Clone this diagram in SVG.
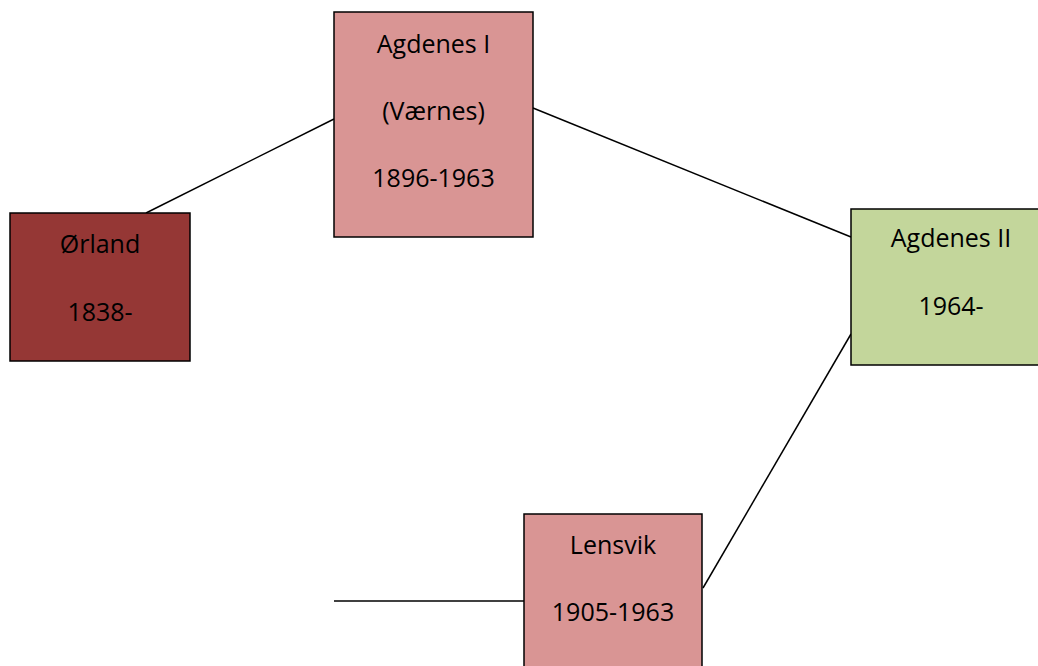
<svg xmlns="http://www.w3.org/2000/svg" width="1038" height="666" viewBox="0 0 1038 666">
<style>
.box{stroke:#000;stroke-width:1.5}
.t{font-family:"Open Sans","Liberation Sans",sans-serif;font-size:25px;fill:#000;text-anchor:middle}
.c{stroke:#000;stroke-width:1.5;fill:none}
</style>
<rect width="1038" height="666" fill="#fff"/>
<g id="connectors">
<line class="c" x1="146" y1="213" x2="334" y2="119"/>
<line class="c" x1="533" y1="108" x2="851" y2="237"/>
<line class="c" x1="851" y1="334" x2="703" y2="588"/>
<line class="c" x1="334" y1="601" x2="524" y2="601"/>
</g>
<g id="orland">
<rect class="box" x="10" y="213" width="180" height="148" fill="#953735"/>
<text class="t" x="100" y="253">Ørland</text>
<text class="t" x="100" y="321">1838-</text>
</g>
<g id="agdenes1">
<rect class="box" x="334" y="12" width="199" height="225" fill="#D99594"/>
<text class="t" x="433.5" y="53">Agdenes I</text>
<text class="t" x="433.5" y="120">(Værnes)</text>
<text class="t" x="433.5" y="187">1896-1963</text>
</g>
<g id="agdenes2">
<rect class="box" x="851" y="209" width="200" height="156" fill="#C3D69B"/>
<text class="t" x="951" y="247">Agdenes II</text>
<text class="t" x="951" y="315">1964-</text>
</g>
<g id="lensvik">
<rect class="box" x="524" y="514" width="178" height="170" fill="#D99594"/>
<text class="t" x="613" y="554">Lensvik</text>
<text class="t" x="613" y="621">1905-1963</text>
</g>
</svg>
